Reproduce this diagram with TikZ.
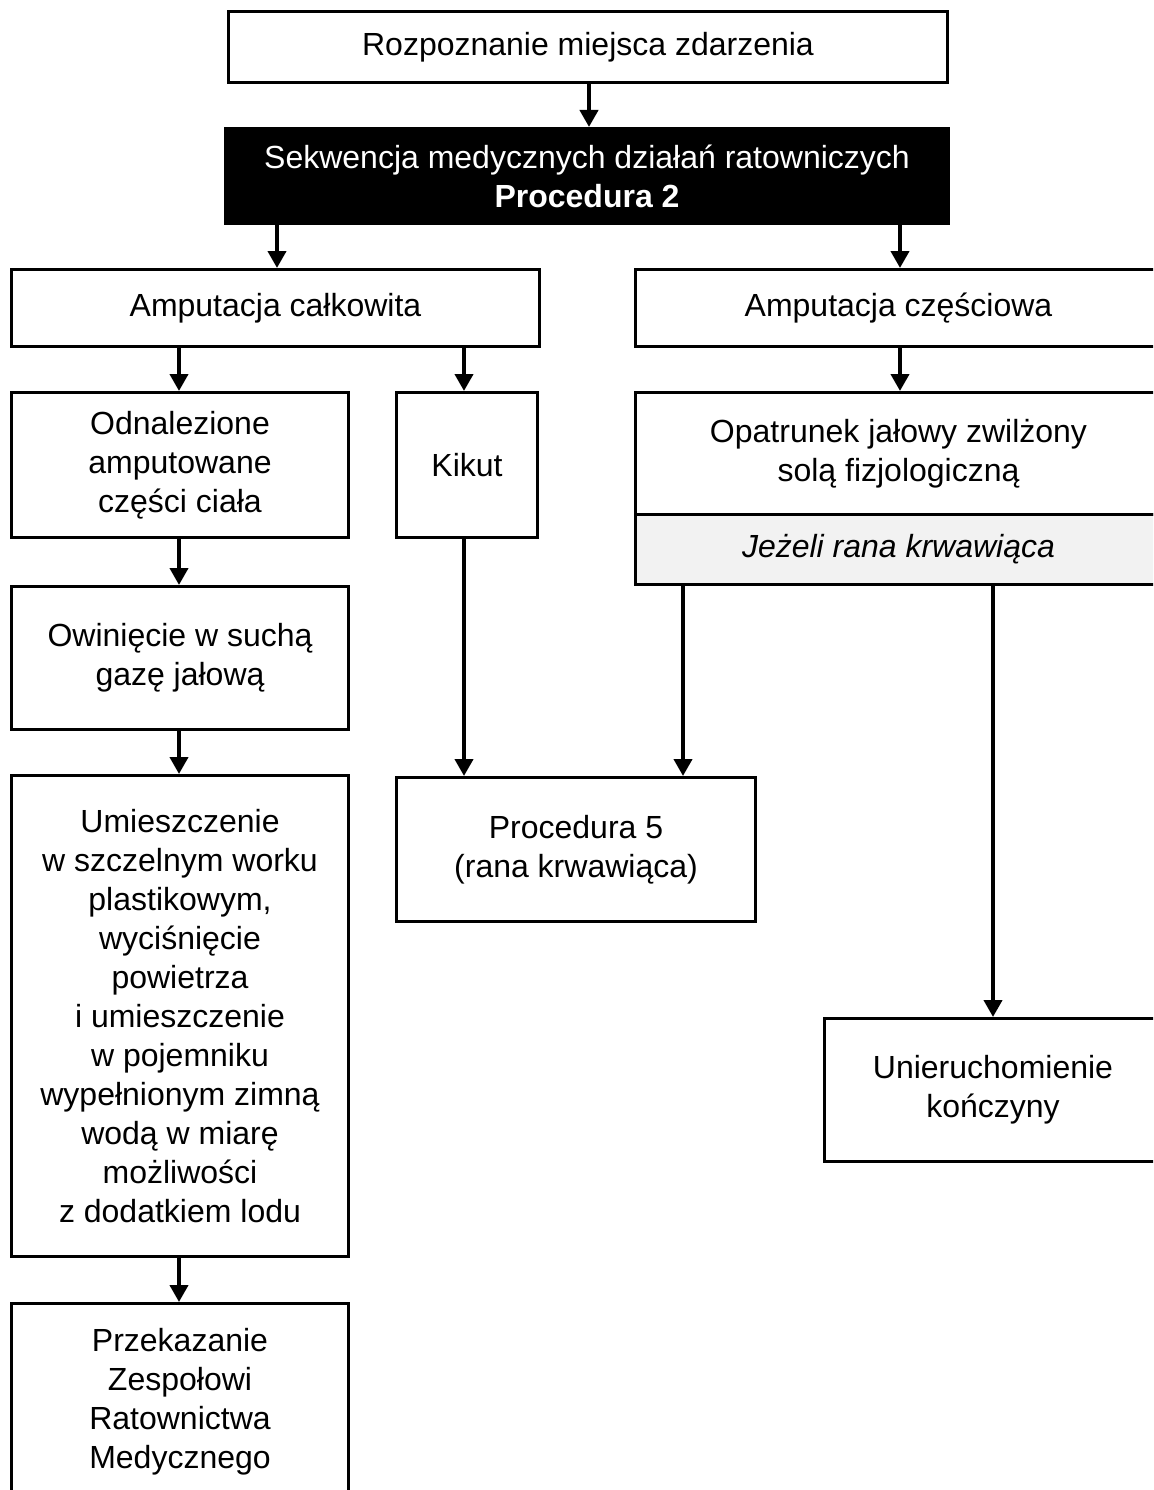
\documentclass[tikz,border=0pt]{standalone}
\usepackage{fontspec}
\setmainfont{Liberation Sans}
\usetikzlibrary{arrows.meta}
\begin{document}
\begin{tikzpicture}[x=1pt,y=-1pt,
  box/.style={draw=black,line width=3pt,anchor=north west,inner sep=0pt,align=center,
    font=\fontsize{32}{39}\selectfont},
  arr/.style={line width=4pt,-{Triangle[width=18pt,length=17pt]}}]
\useasboundingbox[fill=white] (0,0) rectangle (1153,1490);
\clip (0,0) rectangle (1153,1490);
% boxes
\node[box,minimum width=719pt,minimum height=71pt] (b1) at (227,10) {Rozpoznanie miejsca zdarzenia};
\node[box,fill=black,text=white,minimum width=723pt,minimum height=95pt] (b2) at (224,127) {Sekwencja medycznych działań ratowniczych\\\textbf{Procedura 2}};
\node[box,minimum width=528pt,minimum height=77pt] (ac) at (10,268) {Amputacja całkowita};
\node[box,minimum width=526pt,minimum height=77pt] (ap) at (634,268) {Amputacja częściowa};
\node[box,minimum width=337pt,minimum height=145pt] (od) at (10,391) {Odnalezione\\amputowane\\części ciała};
\node[box,minimum width=141pt,minimum height=145pt] (ki) at (395,391) {Kikut};
\node[box,minimum width=526pt,minimum height=122pt] (op) at (634,391) {Opatrunek jałowy zwilżony\\solą fizjologiczną};
\node[box,fill={rgb,255:red,242;green,242;blue,242},minimum width=526pt,minimum height=70pt] (jr) at (634,513) {\itshape Jeżeli rana krwawiąca};
\node[box,minimum width=337pt,minimum height=143pt] (ow) at (10,585) {Owinięcie w suchą\\gazę jałową};
\node[box,minimum width=337pt,minimum height=481pt] (um) at (10,774) {Umieszczenie\\w szczelnym worku\\plastikowym,\\wyciśnięcie\\powietrza\\i umieszczenie\\w pojemniku\\wypełnionym zimną\\wodą w miarę\\możliwości\\z dodatkiem lodu};
\node[box,minimum width=337pt,minimum height=196pt] (pz) at (10,1302) {Przekazanie\\Zespołowi\\Ratownictwa\\Medycznego};
\node[box,minimum width=359pt,minimum height=144pt] (p5) at (395,776) {Procedura 5\\(rana krwawiąca)};
\node[box,minimum width=337pt,minimum height=143pt] (un) at (823,1017) {Unieruchomienie\\kończyny};
% arrows
\draw[arr] (b1.south -| 589,0) -- (b2.north -| 589,0);
\draw[arr] (b2.south -| 277,0) -- (ac.north -| 277,0);
\draw[arr] (b2.south -| 900,0) -- (ap.north -| 900,0);
\draw[arr] (ac.south -| 179,0) -- (od.north -| 179,0);
\draw[arr] (ac.south -| 464,0) -- (ki.north -| 464,0);
\draw[arr] (ap.south -| 900,0) -- (op.north -| 900,0);
\draw[arr] (od.south -| 179,0) -- (ow.north -| 179,0);
\draw[arr] (ow.south -| 179,0) -- (um.north -| 179,0);
\draw[arr] (um.south -| 179,0) -- (pz.north -| 179,0);
\draw[arr] (ki.south -| 464,0) -- (p5.north -| 464,0);
\draw[arr] (jr.south -| 683,0) -- (p5.north -| 683,0);
\draw[arr] (jr.south -| 993,0) -- (un.north -| 993,0);
\end{tikzpicture}
\end{document}
